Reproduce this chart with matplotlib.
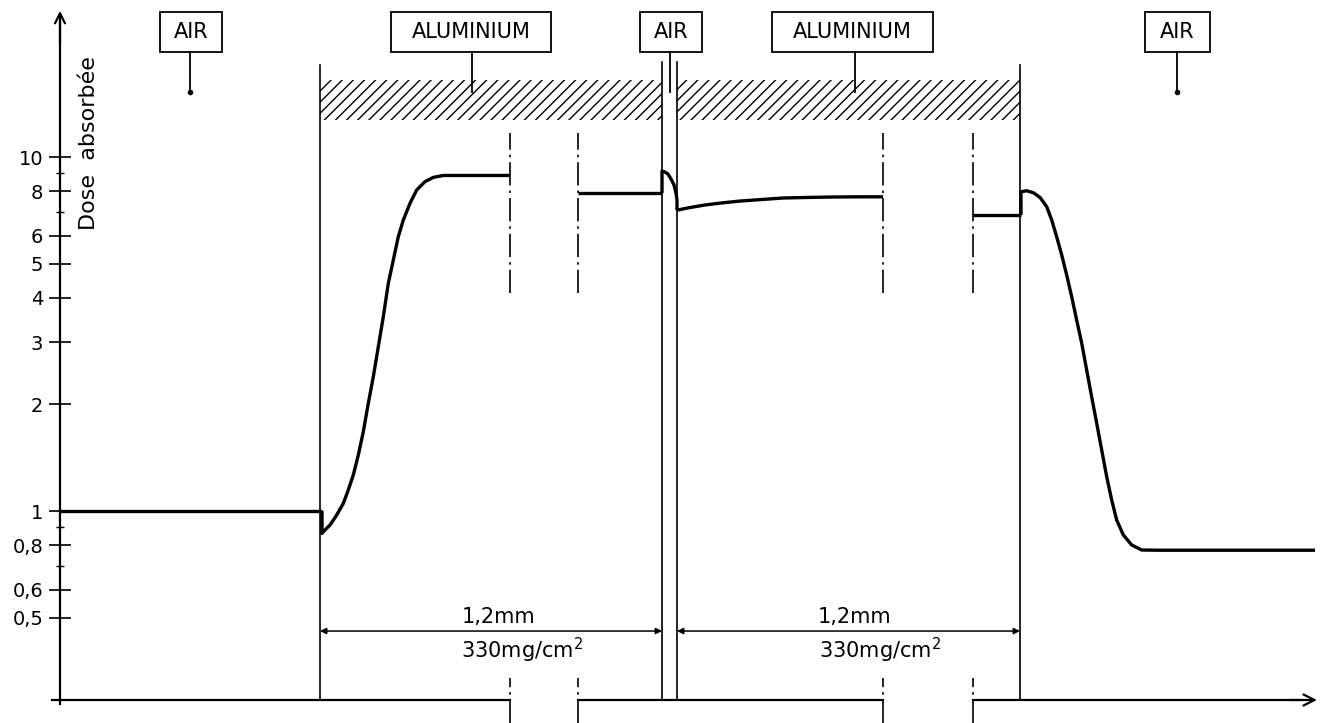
import numpy as np
import matplotlib
matplotlib.use("Agg")
import matplotlib.pyplot as plt
from matplotlib.patches import Rectangle
from matplotlib.ticker import FixedLocator, NullFormatter

plt.rcParams['font.family'] = ['DejaVu Sans']
plt.rcParams['mathtext.default'] = 'regular'
plt.rcParams['hatch.linewidth'] = 1.0

# --- positions le long de la traversée (unités du schéma) ---
x_origine = 60
x_fin = 1317
x_al1 = 320          # entrée 1re plaque d'aluminium
x_air_g = 662        # lame d'air
x_air_d = 677
x_al2 = 1020         # sortie 2e plaque d'aluminium
coupures = [510, 578, 883, 973]

# --- dose absorbée (relative, échelle log) ---
x_air1 = [60, 322]
d_air1 = [1.0, 1.0]

x_p1a = [322, 322, 325, 330, 336.7, 343.3, 348.3, 353.3, 358.3, 363.3, 368.3, 373.3, 378.3,
         383.3, 388.3, 393.3, 398.3, 403.3, 410, 416.7, 425, 433.3, 443.3, 510]
d_p1a = [1.0, 0.865, 0.884, 0.913, 0.974, 1.051, 1.147, 1.264, 1.439, 1.675, 2.015, 2.395, 2.911,
         3.539, 4.397, 5.117, 5.955, 6.637, 7.40, 8.07, 8.52, 8.76, 8.87, 8.87]

x_p1b = [578, 662]
d_p1b = [7.91, 7.91]

x_gap = [662, 662, 665, 668, 671, 674, 676, 677, 677]
d_gap = [7.91, 9.13, 9.07, 8.95, 8.67, 8.34, 7.91, 7.56, 7.08]

x_p2a = [677, 690, 705, 720, 740, 760, 783, 810, 833, 860, 883]
d_p2a = [7.08, 7.20, 7.32, 7.41, 7.51, 7.58, 7.66, 7.69, 7.71, 7.72, 7.72]

x_p2b = [973, 1021]
d_p2b = [6.86, 6.86]

x_air2 = [1021, 1021, 1026.7, 1033.3, 1040, 1046.7, 1051.7, 1056.7, 1061.7, 1066.7, 1071.7,
          1076.7, 1081.7, 1086.7, 1091.7, 1096.7, 1101.7, 1106.7, 1111.7, 1116.7, 1123.3,
          1131.7, 1141.7, 1160, 1315]
d_air2 = [6.86, 7.98, 8.03, 7.93, 7.69, 7.24, 6.64, 5.95, 5.29, 4.64, 4.03,
          3.46, 2.98, 2.50, 2.10, 1.77, 1.487, 1.250, 1.074, 0.943, 0.856,
          0.802, 0.776, 0.775, 0.775]

graduations = [0.5, 0.6, 0.8, 1, 2, 3, 4, 5, 6, 8, 10]
etiquettes = ['0,5', '0,6', '0,8', '1', '2', '3', '4', '5', '6', '8', '10']
petites_grad = [0.7, 0.9, 7, 9]

# étiquettes des milieux : (texte, gauche, largeur, x du trait, point au bout)
milieux = [
    ('AIR', 160, 62, 190, True),
    ('ALUMINIUM', 391, 160, 472, False),
    ('AIR', 640, 62, 670, False),
    ('ALUMINIUM', 772, 161, 855, False),
    ('AIR', 1145, 65, 1177, True),
]

fig = plt.figure(figsize=(13.22, 7.23), dpi=100)
ax = fig.add_axes([0, 0, 1, 1])
ax.set_xlim(0, 1322)
ax.set_yscale('log')
ax.set_ylim(0.2519, 27.77)
trans = ax.get_xaxis_transform()

# axe vertical
for s in ['top', 'right', 'bottom']:
    ax.spines[s].set_visible(False)
ax.spines['left'].set_position(('data', x_origine))
ax.spines['left'].set_bounds(0.285, 24.0)
ax.spines['left'].set_linewidth(1.6)
ax.set_xticks([])
ax.yaxis.set_major_locator(FixedLocator(graduations))
ax.set_yticklabels(etiquettes)
ax.yaxis.set_minor_locator(FixedLocator(petites_grad))
ax.yaxis.set_minor_formatter(NullFormatter())
ax.tick_params(axis='y', which='major', direction='inout', length=16, width=1.2, pad=4, labelsize=14)
ax.tick_params(axis='y', which='minor', direction='inout', length=6, width=1.0)
ax.annotate('', xy=(x_origine, 0.985), xytext=(x_origine, 0.94), xycoords=trans,
            arrowprops=dict(arrowstyle='->', lw=1.6, color='black', mutation_scale=18,
                            shrinkA=0, shrinkB=0))
ax.text(89, 0.802, 'Dose  absorbée', transform=trans, rotation=90,
        ha='center', va='center', fontsize=16)

# axe horizontal avec coupures
y_axe = 0.0318
ax.plot([52, coupures[0]], [y_axe, y_axe], transform=trans, color='black', lw=1.6)
ax.plot([coupures[1], coupures[2]], [y_axe, y_axe], transform=trans, color='black', lw=1.6)
ax.plot([coupures[3], 1300], [y_axe, y_axe], transform=trans, color='black', lw=1.6)
ax.annotate('', xy=(x_fin, y_axe), xytext=(1290, y_axe), xycoords=trans,
            arrowprops=dict(arrowstyle='->', lw=1.6, color='black', mutation_scale=20,
                            shrinkA=0, shrinkB=0))

# limites des plaques
ax.plot([x_al1, x_al1], [y_axe, 0.910], transform=trans, color='black', lw=1.2)
ax.plot([x_al2, x_al2], [y_axe, 0.910], transform=trans, color='black', lw=1.2)
ax.plot([x_air_g, x_air_g], [y_axe, 0.914], transform=trans, color='black', lw=1.2)
ax.plot([x_air_d, x_air_d], [y_axe, 0.914], transform=trans, color='black', lw=1.2)

# hachures aluminium
for x0, x1 in [(x_al1, x_air_g), (x_air_d, x_al2)]:
    ax.add_patch(Rectangle((x0, 0.834), x1 - x0, 0.0553, transform=trans,
                           fill=False, hatch='///', edgecolor='black', lw=0))

# traits de coupure
for xc in coupures:
    ax.plot([xc, xc], [0.5947, 0.816], transform=trans, color='black', lw=1.2,
            linestyle=(0, (14, 3, 1.5, 3)))
    ax.plot([xc, xc], [0.0, 0.0622], transform=trans, color='black', lw=1.2,
            linestyle=(0, (14, 3, 1.5, 3)))

# courbe de dose
for xs, ds in [(x_air1, d_air1), (x_p1a, d_p1a), (x_p1b, d_p1b), (x_gap, d_gap),
               (x_p2a, d_p2a), (x_p2b, d_p2b), (x_air2, d_air2)]:
    ax.plot(xs, ds, color='black', lw=2.4, solid_joinstyle='round', solid_capstyle='butt')

# étiquettes des milieux
for nom, x0, w, xl, point in milieux:
    ax.add_patch(Rectangle((x0, 0.9281), w, 0.0553, transform=trans,
                           fill=False, edgecolor='black', lw=1.3))
    ax.text(x0 + w / 2, 0.9557, nom, transform=trans, ha='center', va='center', fontsize=15)
    ax.plot([xl, xl], [0.9281, 0.8728], transform=trans, color='black', lw=1.3)
    if point:
        ax.plot([xl], [0.8728], transform=trans, marker='o', ms=3, color='black')

# cotes
y_cote = 0.1272
for x0, x1, xt1, xt2 in [(x_al1, x_air_g, 499, 522), (x_air_d, x_al2, 855, 880)]:
    ax.annotate('', xy=(x0, y_cote), xytext=(x1, y_cote), xycoords=trans,
                arrowprops=dict(arrowstyle='<|-|>', lw=1.1, color='black', mutation_scale=9,
                                shrinkA=0, shrinkB=0))
    ax.text(xt1, y_cote + 0.006, '1,2mm', transform=trans, ha='center', va='bottom', fontsize=15)
    ax.text(xt2, 0.101, '330mg/cm$^2$', transform=trans, ha='center', va='center', fontsize=15)

fig.savefig('out.png', dpi=100)
